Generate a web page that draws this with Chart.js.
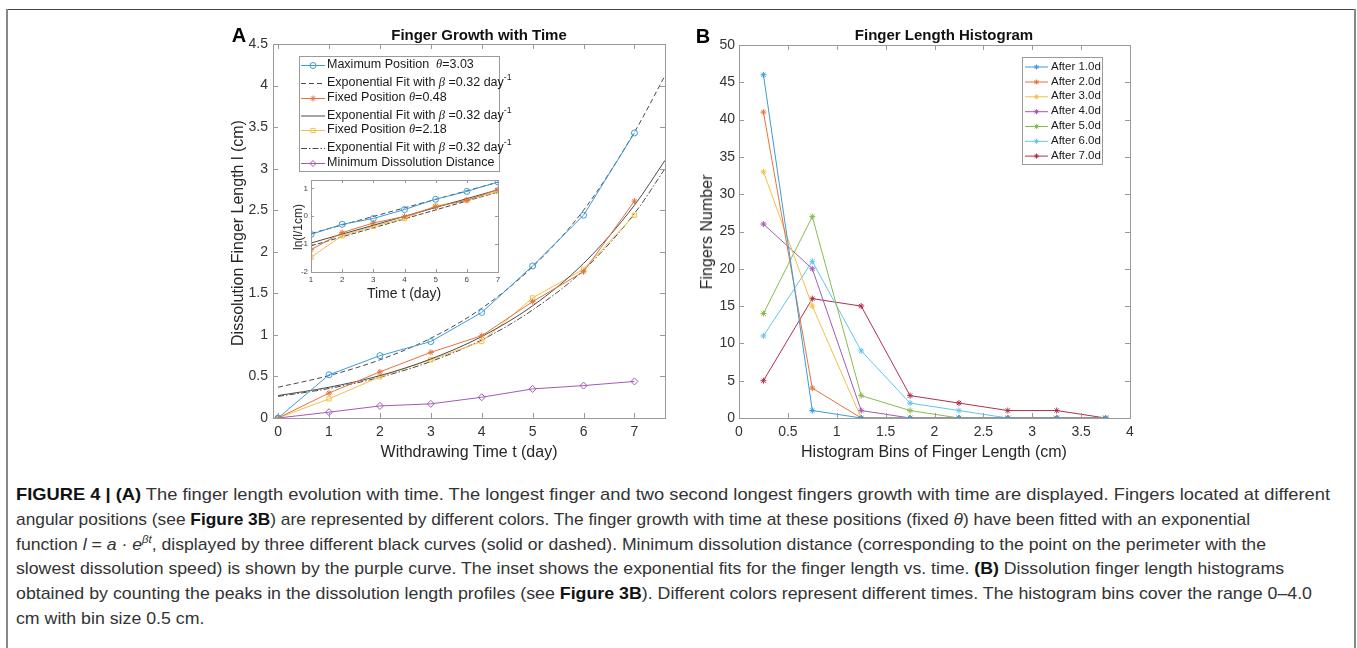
<!DOCTYPE html>
<html>
<head>
<meta charset="utf-8">
<script src="https://cdn.jsdelivr.net/npm/chart.js@4.4.1/dist/chart.umd.min.js"></script>
<style>
  body { margin: 0; background: #fff; width: 1357px; height: 648px; overflow: hidden; position: relative;
         font-family: "Liberation Sans", Arial, sans-serif; color: #262626; }
  .abs { position: absolute; white-space: nowrap; }
  .center { transform: translate(-50%, -50%); }
  .vert { transform: translate(-50%, -50%) rotate(-90deg); }
  .frame-top { position: absolute; left: 7px; top: 9px; width: 1349px; height: 1px; background: #444; }
  .frame-left { position: absolute; left: 6px; top: 9px; width: 2px; height: 660px; background: #888; }
  .frame-right { position: absolute; left: 1354px; top: 9px; width: 2px; height: 660px; background: #888; }
  .title { font-weight: bold; font-size: 15px; color: #111; }
  .letter { font-weight: bold; font-size: 20px; color: #000; }
  .axtitle { font-size: 16px; color: #262626; }
  #caption { position: absolute; left: 16px; top: 483px; font-family: "Liberation Sans", Arial, sans-serif;
             font-size: 17px; line-height: 24.8px; color: #333; }
  #caption div { white-space: nowrap; transform-origin: 0 0; width: max-content; }
  #caption b { color: #111; }
  canvas { position: absolute; }
</style>
</head>
<body>
<div class="frame-top"></div>
<div class="frame-left"></div>
<div class="frame-right"></div>

<canvas id="chartA" width="480" height="470" style="left:200px;top:0"></canvas>
<canvas id="inset" width="225" height="128" style="left:280px;top:172px"></canvas>
<canvas id="chartB" width="470" height="470" style="left:680px;top:0"></canvas>

<div class="abs letter center" style="left:239px;top:35px">A</div>
<div class="abs letter center" style="left:703px;top:36px">B</div>
<div class="abs title center" style="left:479px;top:34px">Finger Growth with Time</div>
<div class="abs title center" style="left:944px;top:34px">Finger Length Histogram</div>
<div class="abs axtitle vert" style="left:238px;top:233px">Dissolution Finger Length l (cm)</div>
<div class="abs axtitle center" style="left:469px;top:452px">Withdrawing Time t (day)</div>
<div class="abs axtitle vert" style="left:707px;top:232px">Fingers Number</div>
<div class="abs axtitle center" style="left:934px;top:452px">Histogram Bins of Finger Length (cm)</div>
<div class="abs vert" style="left:298px;top:227px;font-size:12px">ln(l/1cm)</div>
<div class="abs center" style="left:404px;top:293px;font-size:14px">Time t (day)</div>

<div id="caption">
<div data-w="1314"><b>FIGURE 4 | (A)</b> The finger length evolution with time. The longest finger and two second longest fingers growth with time are displayed. Fingers located at different</div>
<div data-w="1234">angular positions (see <b>Figure 3B</b>) are represented by different colors. The finger growth with time at these positions (fixed <i>θ</i>) have been fitted with an exponential</div>
<div data-w="1250">function <i>l</i> = <i>a</i> · <i>e</i><sup style="font-size:11px;line-height:0"><i>βt</i></sup>, displayed by three different black curves (solid or dashed). Minimum dissolution distance (corresponding to the point on the perimeter with the</div>
<div data-w="1268">slowest dissolution speed) is shown by the purple curve. The inset shows the exponential fits for the finger length vs. time. <b>(B)</b> Dissolution finger length histograms</div>
<div data-w="1296">obtained by counting the peaks in the dissolution length profiles (see <b>Figure 3B</b>). Different colors represent different times. The histogram bins cover the range 0–4.0</div>
<div>cm with bin size 0.5 cm.</div>
</div>

<script>
// ---- Panel A: finger length vs withdrawing time ----
const days = [0, 1, 2, 3, 4, 5, 6, 7];
const maxPosition = [0, 0.52, 0.75, 0.92, 1.27, 1.83, 2.44, 3.43];
const fixed048 = [0, 0.30, 0.555, 0.79, 0.99, 1.40, 1.76, 2.61];
const fixed218 = [0, 0.23, 0.495, 0.70, 0.92, 1.445, 1.79, 2.44];
const minDistance = [0, 0.07, 0.145, 0.17, 0.25, 0.35, 0.39, 0.44];

// exponential fit curves
const fitDays = [0, 1, 2, 3, 4, 5, 6, 7, 7.6];
const fitMax = [0.37, 0.51, 0.70, 0.96, 1.32, 1.82, 2.50, 3.44, 4.12];
const fitSolid = [0.27, 0.37, 0.51, 0.71, 0.98, 1.35, 1.86, 2.56, 3.10];
const fitDashDot = [0.26, 0.355, 0.49, 0.68, 0.94, 1.30, 1.78, 2.46, 3.00];

// ---- inset: ln(l) vs time ----
const insetDays = [1, 2, 3, 4, 5, 6, 7];
const lnMax = [-0.65, -0.29, -0.08, 0.24, 0.61, 0.89, 1.23];
const ln048 = [-1.20, -0.59, -0.24, -0.01, 0.34, 0.57, 0.96];
const ln218 = [-1.47, -0.70, -0.36, -0.08, 0.37, 0.58, 0.89];
const insetFitDays = [1, 7];
const lnFitMax = [-0.62, 1.22];
const lnFitSolid = [-0.96, 0.95];
const lnFitDashDot = [-1.06, 0.87];

// ---- Panel B: histogram of finger length ----
const binCenters = [0.25, 0.75, 1.25, 1.75, 2.25, 2.75, 3.25, 3.75];
const after1 = [46, 1, 0, 0, 0, 0, 0, 0];
const after2 = [41, 4, 0, 0, 0, 0, 0, 0];
const after3 = [33, 15, 0, 0, 0, 0, 0, 0];
const after4 = [26, 20, 1, 0, 0, 0, 0, 0];
const after5 = [14, 27, 3, 1, 0, 0, 0, 0];
const after6 = [11, 21, 9, 2, 1, 0, 0, 0];
const after7 = [5, 16, 15, 3, 2, 1, 1, 0];
const histLabels = ['After 1.0d', 'After 2.0d', 'After 3.0d', 'After 4.0d', 'After 5.0d', 'After 6.0d', 'After 7.0d'];

const FONT = '"Liberation Sans", Arial, sans-serif';
const C = {
    blue: '#3d9bd8', orange: '#e3733e', yellow: '#f2c04a', purple: '#a15bb4',
    green: '#89ba4e', cyan: '#60c5ef', red: '#b0304c', fit: '#4a4a4a'
};

const pts = (xs, ys) => xs.map((x, i) => ({ x: x, y: ys[i] }));

// MATLAB style box with inward ticks
const boxPlugin = {
    id: 'matlabBox',
    beforeDraw(chart, args, opts) {
        if (!opts.fill) return;
        const a = chart.chartArea;
        chart.ctx.save();
        chart.ctx.fillStyle = '#fff';
        chart.ctx.fillRect(a.left, a.top, a.right - a.left, a.bottom - a.top);
        chart.ctx.restore();
    },
    afterDatasetsDraw(chart, args, opts) {
        const { ctx, chartArea: a, scales } = chart;
        const len = opts.tick || 5;
        ctx.save();
        ctx.strokeStyle = opts.color || '#9a9a9a';
        ctx.lineWidth = 1;
        ctx.beginPath();
        scales.x.ticks.forEach(t => {
            const px = Math.round(scales.x.getPixelForValue(t.value)) + 0.5;
            ctx.moveTo(px, a.bottom); ctx.lineTo(px, a.bottom - len);
            ctx.moveTo(px, a.top); ctx.lineTo(px, a.top + len);
        });
        scales.y.ticks.forEach(t => {
            const py = Math.round(scales.y.getPixelForValue(t.value)) + 0.5;
            ctx.moveTo(a.left, py); ctx.lineTo(a.left + len, py);
            ctx.moveTo(a.right, py); ctx.lineTo(a.right - len, py);
        });
        ctx.stroke();
        ctx.strokeRect(Math.round(a.left) + 0.5, Math.round(a.top) + 0.5,
            Math.round(a.right - a.left), Math.round(a.bottom - a.top));
        ctx.restore();
    }
};

function drawRich(ctx, text, x, y, size, color) {
    const parts = text.split(/(θ|β|\^-1)/);
    ctx.textBaseline = 'middle';
    ctx.textAlign = 'left';
    ctx.fillStyle = color;
    parts.forEach(p => {
        if (!p) return;
        if (p === '^-1') {
            ctx.font = (size * 0.7) + 'px ' + FONT;
            ctx.fillText('-1', x, y - size * 0.4);
            x += ctx.measureText('-1').width;
            return;
        }
        ctx.font = (p === 'θ' || p === 'β') ? 'italic ' + size + 'px "Liberation Serif", serif' : size + 'px ' + FONT;
        ctx.fillText(p, x, y);
        x += ctx.measureText(p).width;
    });
}

// legend drawn inside the axes like MATLAB
const legendPlugin = {
    id: 'boxLegend',
    afterDatasetsDraw(chart, args, o) {
        if (!o || !o.box) return;
        const ctx = chart.ctx;
        const [x0, y0, x1, y1] = o.box;
        ctx.save();
        ctx.fillStyle = '#fff';
        ctx.fillRect(x0, y0, x1 - x0, y1 - y0);
        ctx.strokeStyle = '#9a9a9a';
        ctx.lineWidth = 1;
        ctx.strokeRect(x0 + 0.5, y0 + 0.5, x1 - x0, y1 - y0);
        chart.data.datasets.forEach((ds, i) => {
            const y = o.rows[i];
            ctx.strokeStyle = ds.borderColor;
            ctx.lineWidth = 1;
            ctx.setLineDash(ds.borderDash || []);
            ctx.beginPath();
            ctx.moveTo(o.line[0], y + 0.5);
            ctx.lineTo(o.line[1], y + 0.5);
            ctx.stroke();
            ctx.setLineDash([]);
            if (ds.pointRadius > 0) {
                ctx.fillStyle = 'rgba(0,0,0,0)';
                Chart.helpers.drawPoint(ctx, { pointStyle: ds.pointStyle, radius: o.marker, borderWidth: 1, rotation: 0 },
                    (o.line[0] + o.line[1]) / 2, y + 0.5);
            }
            drawRich(ctx, ds.label, o.textX, y, o.size, '#1a1a1a');
        });
        ctx.restore();
    }
};

function series(label, xs, ys, color, style, r) {
    return {
        label: label, data: pts(xs, ys), borderColor: color, backgroundColor: 'rgba(0,0,0,0)',
        borderWidth: 1, pointStyle: style, pointRadius: r, pointBorderWidth: 1,
        pointBorderColor: color, pointBackgroundColor: 'rgba(0,0,0,0)', tension: 0
    };
}
function fitLine(label, xs, ys, dash) {
    return {
        label: label, data: pts(xs, ys), borderColor: C.fit, borderWidth: 1, borderDash: dash,
        pointRadius: 0, cubicInterpolationMode: 'monotone', backgroundColor: 'rgba(0,0,0,0)'
    };
}

function axis(min, max, step, pad, size, color) {
    return {
        type: 'linear', min: min, max: max,
        grid: { display: false, drawTicks: false }, border: { display: false },
        ticks: { stepSize: step, includeBounds: false, padding: pad, color: color, maxRotation: 0,
                 font: { family: FONT, size: size },
                 callback: v => String(Math.round(v * 100) / 100) }
    };
}

const fitLabel = 'Exponential Fit with β =0.32 day^-1';

document.addEventListener('DOMContentLoaded', () => {
    // 1. Finger growth chart
    const xA = axis(-0.1, 7.6, 1, 6, 14, '#333');
    xA.afterFit = s => { s.height = 52; };
    const yA = axis(0, 4.5, 0.5, 5, 14, '#333');
    yA.afterFit = s => { s.width = 73; };

    new Chart(document.getElementById('chartA'), {
        type: 'line',
        data: {
            datasets: [
                series('Maximum Position  θ=3.03', days, maxPosition, C.blue, 'circle', 3),
                fitLine(fitLabel, fitDays, fitMax, [5, 3]),
                series('Fixed Position θ=0.48', days, fixed048, C.orange, 'star', 3),
                fitLine(fitLabel, fitDays, fitSolid, []),
                series('Fixed Position θ=2.18', days, fixed218, C.yellow, 'rect', 3),
                fitLine(fitLabel, fitDays, fitDashDot, [6, 2, 1.5, 2]),
                series('Minimum Dissolution Distance', days, minDistance, C.purple, 'rectRot', 3.5)
            ]
        },
        options: {
            responsive: false, animation: false,
            layout: { padding: { top: 44, right: 15, left: 0, bottom: 0 } },
            plugins: {
                legend: { display: false }, tooltip: { enabled: false },
                matlabBox: { tick: 5 },
                boxLegend: { box: [99, 56, 299, 171], rows: [65, 83, 98, 115.5, 130, 148, 163],
                             line: [101, 125], marker: 3, textX: 127, size: 12.5 }
            },
            scales: { x: xA, y: yA }
        },
        plugins: [boxPlugin, legendPlugin]
    });

    // 2. Inset: log of finger length
    const xI = axis(1, 7, 1, 3, 8, '#444');
    xI.afterFit = s => { s.height = 28; };
    const yI = axis(-2, 1.3, 1, 3, 8, '#444');
    yI.afterFit = s => { s.width = 31; };

    new Chart(document.getElementById('inset'), {
        type: 'line',
        data: {
            datasets: [
                series('max', insetDays, lnMax, C.blue, 'circle', 3),
                fitLine('fit max', insetFitDays, lnFitMax, [5, 3]),
                series('0.48', insetDays, ln048, C.orange, 'star', 3),
                fitLine('fit 0.48', insetFitDays, lnFitSolid, []),
                series('2.18', insetDays, ln218, C.yellow, 'rect', 3),
                fitLine('fit 2.18', insetFitDays, lnFitDashDot, [5, 2])
            ]
        },
        options: {
            responsive: false, animation: false,
            layout: { padding: { top: 8, right: 7, left: 0, bottom: 0 } },
            plugins: { legend: { display: false }, tooltip: { enabled: false }, matlabBox: { tick: 3, fill: true } },
            scales: { x: xI, y: yI }
        },
        plugins: [boxPlugin]
    });

    // 3. Finger length histogram
    const xB = axis(0, 4, 0.5, 6, 14, '#333');
    xB.afterFit = s => { s.height = 52; };
    const yB = axis(0, 50, 5, 4, 14, '#333');
    yB.afterFit = s => { s.width = 59; };

    const histSeries = [after1, after2, after3, after4, after5, after6, after7];
    const histColors = [C.blue, C.orange, C.yellow, C.purple, C.green, C.cyan, C.red];

    new Chart(document.getElementById('chartB'), {
        type: 'line',
        data: {
            datasets: histSeries.map((vals, i) => series(histLabels[i], binCenters, vals, histColors[i], 'star', 3))
        },
        options: {
            responsive: false, animation: false,
            layout: { padding: { top: 45, right: 20, left: 0, bottom: 0 } },
            plugins: {
                legend: { display: false }, tooltip: { enabled: false },
                matlabBox: { tick: 5 },
                boxLegend: { box: [342, 57, 422, 164], rows: [66.5, 81.5, 96.3, 111.2, 126, 140.8, 155.6],
                             line: [345, 368], marker: 2.5, textX: 371, size: 11.5 }
            },
            scales: { x: xB, y: yB }
        },
        plugins: [boxPlugin, legendPlugin]
    });

    // 4. Fit each caption line to the width it has in the reference
    const lines = Array.from(document.querySelectorAll('#caption div'));
    let sum = 0, n = 0;
    lines.forEach(line => {
        if (!line.dataset.w) return;
        const s = Number(line.dataset.w) / line.getBoundingClientRect().width;
        line.style.transform = 'scaleX(' + s + ')';
        sum += s; n++;
    });
    lines.forEach(line => {
        if (!line.dataset.w) line.style.transform = 'scaleX(' + (sum / n) + ')';
    });
});
</script>
</body>
</html>
